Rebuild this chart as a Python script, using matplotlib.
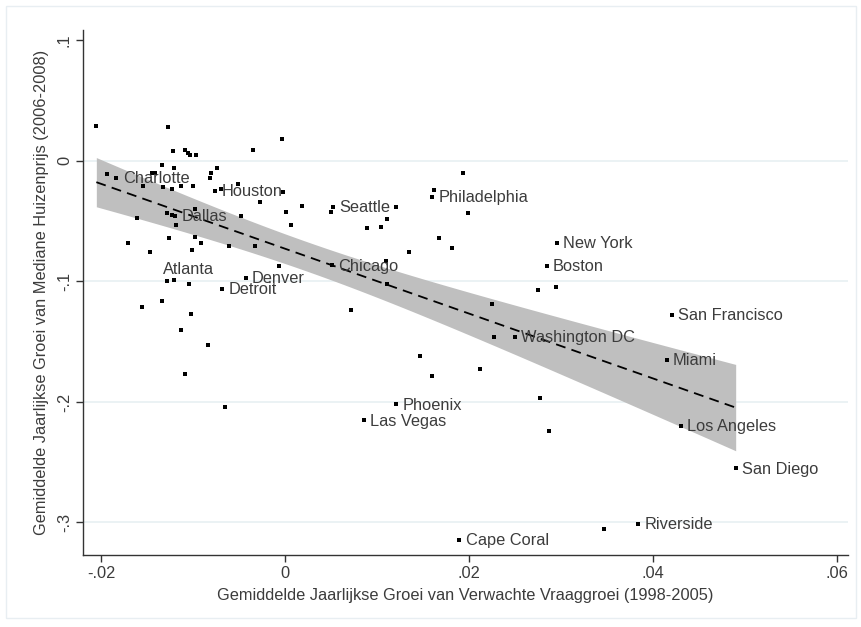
import numpy as np
import matplotlib
matplotlib.use("Agg")
import matplotlib.pyplot as plt

plt.rcParams['font.family'] = ['Liberation Sans', 'DejaVu Sans']

# metro areas without a label: growth of expected demand vs. house price growth
x_pts = [-0.02051, -0.01275, -0.01217, -0.01087, -0.01060, -0.01033, -0.00973, -0.00348,
         -0.00036, -0.01340, -0.01207, -0.01932, -0.01449, -0.01413, -0.01547, -0.01326,
         -0.01228, -0.01134, -0.01000, -0.00808, -0.00815, -0.00739, -0.00699, -0.00508,
         -0.00270, -0.00025, 0.00190, 0.00016, 0.00062, -0.01614, -0.01279, -0.01232,
         -0.00982, -0.01185, -0.00482, -0.01264, -0.00978, -0.00913, -0.01709, -0.00607,
         -0.00321, -0.00060, -0.01471, -0.01011, -0.01286, -0.01207, -0.01558, -0.01340,
         -0.01022, -0.01130, -0.00837, -0.01087, -0.00652, 0.00497, 0.01207, 0.01109,
         0.00888, 0.01043, 0.01350, 0.01677, 0.01818, 0.01938, 0.01620, 0.01992,
         0.01098, 0.01109, 0.02747, 0.02946, 0.00714, 0.02247, 0.02268, 0.01471,
         0.01601, 0.02123, 0.02772, 0.02870, 0.03471]
y_pts = [0.02913, 0.02830, 0.00838, 0.00855, 0.00647, 0.00440, 0.00440, 0.00921,
         0.01834, -0.00390, -0.00556, -0.01054, -0.01037, -0.01037, -0.02091, -0.02174,
         -0.02299, -0.02091, -0.02050, -0.00988, -0.01386, -0.00573, -0.02299, -0.01925,
         -0.03394, -0.02589, -0.03726, -0.04224, -0.05286, -0.04705, -0.04307, -0.04498,
         -0.04000, -0.05353, -0.04564, -0.06365, -0.06299, -0.06797, -0.06822, -0.07054,
         -0.07054, -0.08730, -0.07568, -0.07402, -0.09975, -0.09892, -0.12133, -0.11635,
         -0.12714, -0.14041, -0.15311, -0.17718, -0.20432, -0.04224, -0.03834, -0.04830,
         -0.05552, -0.05469, -0.07568, -0.06382, -0.07237, -0.00988, -0.02382, -0.04332,
         -0.08290, -0.10224, -0.10722, -0.10432, -0.12382, -0.11884, -0.14622, -0.16224,
         -0.17884, -0.17278, -0.19685, -0.22423, -0.30581]

# labelled metro areas
cities = ["Charlotte", "Houston", "Dallas", "Atlanta", "Detroit", "Denver", "Seattle",
          "Philadelphia", "Chicago", "Washington DC", "Phoenix", "Las Vegas", "Cape Coral",
          "New York", "Boston", "San Francisco", "Miami", "Los Angeles", "San Diego",
          "Riverside"]
x_city = [-0.01832, -0.00761, -0.01196, -0.01047, -0.00683, -0.00426, 0.00518,
          0.01600, 0.00508, 0.02500, 0.01207, 0.00855, 0.01895,
          0.02953, 0.02845, 0.04203, 0.04147, 0.04301, 0.04899, 0.03840]
y_city = [-0.01402, -0.02465, -0.04539, -0.10224, -0.10614, -0.09701, -0.03809,
          -0.02979, -0.08664, -0.14622, -0.20207, -0.21535, -0.31469,
          -0.06797, -0.08705, -0.12772, -0.16531, -0.21983, -0.25519, -0.30116]

x_ticks = [-0.02, 0, 0.02, 0.04, 0.06]
x_ticklabels = ["-.02", "0", ".02", ".04", ".06"]
y_ticks = [-0.3, -0.2, -0.1, 0, 0.1]
y_ticklabels = ["-.3", "-.2", "-.1", "0", ".1"]

xlab = "Gemiddelde Jaarlijkse Groei van Verwachte Vraaggroei (1998-2005)"
ylab = "Gemiddelde Jaarlijkse Groei van Mediane Huizenprijs (2006-2008)"

# linear fit with 95% CI of the mean prediction (like Stata lfitci)
X = np.array(x_pts + x_city)
Y = np.array(y_pts + y_city)
n = len(X)
b1, b0 = np.polyfit(X, Y, 1)
resid = Y - (b0 + b1 * X)
s = np.sqrt(np.sum(resid ** 2) / (n - 2))
sxx = np.sum((X - X.mean()) ** 2)
xf = np.linspace(X.min(), X.max(), 200)
yf = b0 + b1 * xf
se = s * np.sqrt(1.0 / n + (xf - X.mean()) ** 2 / sxx)
tcrit = 1.985
txt_col = '#3c3c3c'

fig = plt.figure(figsize=(8.62, 6.27), dpi=100)
W, H = 862, 627
ax = fig.add_axes([83 / W, 1 - 555 / H, (848 - 83) / W, (555 - 30) / H])

ax.fill_between(xf, yf - tcrit * se, yf + tcrit * se, color='#bfbfbf', lw=0, zorder=2)
ax.plot(xf, yf, color='black', lw=1.3, ls=(0, (5.5, 3.5)), zorder=3)
ax.plot(X, Y, 's', color='black', ms=2.8, mew=0, zorder=4)

for name, cx, cy in zip(cities, x_city, y_city):
    if name == "Atlanta":
        ax.annotate(name, (cx, cy), xytext=(0, 5), textcoords='offset points',
                    ha='center', va='bottom', fontsize=11.8, color=txt_col, zorder=5)
    else:
        ax.annotate(name, (cx, cy), xytext=(4.5, -0.6), textcoords='offset points',
                    ha='left', va='center', fontsize=11.8, color=txt_col, zorder=5)

ax.set_xlim(-0.02196, 0.0612)
ax.set_ylim(-0.327, 0.1085)
ax.set_xticks(x_ticks)
ax.set_xticklabels(x_ticklabels)
ax.set_yticks(y_ticks)
ax.set_yticklabels(y_ticklabels, rotation=90, va='center')
for g in [-0.3, -0.2, -0.1, 0]:
    ax.axhline(g, color='#e8f0f2', lw=1.2, zorder=1)

for sp in ['top', 'right']:
    ax.spines[sp].set_visible(False)
for sp in ['left', 'bottom']:
    ax.spines[sp].set_color('#333333')
    ax.spines[sp].set_linewidth(1.0)
ax.tick_params(direction='out', length=5, width=1, colors='#333333',
               labelsize=11.8, labelcolor=txt_col, pad=3)

ax.set_xlabel(xlab, fontsize=11.8, color=txt_col, labelpad=5)
ax.set_ylabel(ylab, fontsize=11.8, color=txt_col, labelpad=6)

# light frame round the graph region
fig.patches.append(plt.Rectangle((6 / W, 1 - 618 / H), 850 / W, 612 / H,
                                 transform=fig.transFigure, fill=False,
                                 ec='#e8eef2', lw=1))

fig.savefig("out.png", dpi=100, facecolor='white')
